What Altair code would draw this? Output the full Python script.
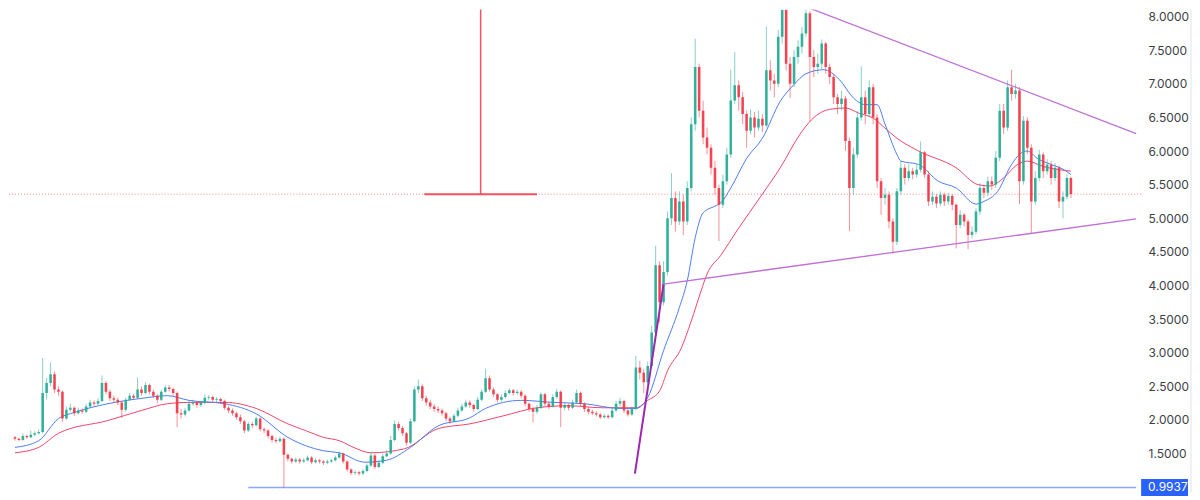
import altair as alt
import pandas as pd

# ---------------- candle data ----------------
first_open = 1.74
closes = [
    1.72, 1.70, 1.76, 1.74, 1.78, 1.80, 1.82, 2.40, 2.55, 2.68,
    2.45, 2.42, 2.02, 2.15, 2.18, 2.10, 2.14, 2.12, 2.20, 2.26,
    2.24, 2.28, 2.55, 2.42, 2.32, 2.30, 2.26, 2.15, 2.30, 2.36,
    2.33, 2.45, 2.40, 2.52, 2.42, 2.36, 2.30, 2.42, 2.48, 2.46,
    2.40, 2.10, 2.08, 2.14, 2.24, 2.26, 2.22, 2.25, 2.33, 2.34,
    2.30, 2.31, 2.28, 2.18, 2.14, 2.10, 2.04, 1.98, 1.84, 1.94,
    1.92, 2.02, 1.86, 1.84, 1.76, 1.70, 1.68, 1.72, 1.48, 1.42,
    1.38, 1.41, 1.38, 1.40, 1.44, 1.37, 1.40, 1.38, 1.36, 1.38,
    1.40, 1.44, 1.50, 1.38, 1.26, 1.21, 1.22, 1.20, 1.24, 1.32,
    1.47, 1.30, 1.36, 1.46, 1.50, 1.70, 1.94, 1.88, 1.80, 1.66,
    1.98, 2.45, 2.50, 2.32, 2.26, 2.20, 2.16, 2.14, 2.10, 2.02,
    1.98, 2.06, 2.14, 2.20, 2.26, 2.22, 2.16, 2.30, 2.42, 2.62,
    2.45, 2.38, 2.30, 2.34, 2.40, 2.44, 2.40, 2.42, 2.36, 2.24,
    2.16, 2.12, 2.18, 2.38, 2.24, 2.20, 2.34, 2.42, 2.18, 2.22,
    2.18, 2.26, 2.40, 2.24, 2.16, 2.12, 2.10, 2.08, 2.04, 2.06,
    2.04, 2.14, 2.24, 2.28, 2.14, 2.08, 2.16, 2.78, 2.70, 2.56,
    2.80, 3.30, 4.30, 3.75, 4.20, 5.00, 5.30, 4.95, 5.25, 4.95,
    5.45, 6.40, 7.25, 6.60, 6.20, 6.05, 5.75, 5.45, 5.20, 5.55,
    5.95, 6.75, 6.98, 6.80, 6.55, 6.30, 6.50, 6.35, 6.48, 6.38,
    7.20, 7.05, 7.00, 7.70, 8.10, 7.30, 7.00, 7.40, 7.55, 7.75,
    8.05, 7.40, 7.25, 7.30, 7.60, 7.25, 7.10, 6.80, 6.70, 6.78,
    6.15, 5.45, 5.95, 6.50, 6.80, 6.55, 6.95, 6.50, 5.55, 5.30,
    5.35, 4.95, 4.65, 5.40, 5.75, 5.60, 5.70, 5.65, 5.72, 5.98,
    5.65, 5.25, 5.32, 5.22, 5.35, 5.25, 5.33, 5.20, 4.90, 5.05,
    4.95, 4.75, 4.80, 5.10, 5.45, 5.38, 5.55, 5.50, 5.90, 6.60,
    6.35, 6.95, 6.85, 6.90, 5.55, 6.45, 6.05, 5.25, 5.60, 5.95,
    5.70, 5.80, 5.60, 5.75, 5.25, 5.32, 5.60, 5.36,
]
highs = [
    1.76, 1.74, 1.80, 1.78, 1.84, 1.83, 1.86, 2.92, 2.62, 2.85,
    2.72, 2.50, 2.44, 2.20, 2.24, 2.20, 2.18, 2.17, 2.24, 2.30,
    2.29, 2.32, 2.66, 2.58, 2.45, 2.36, 2.33, 2.28, 2.33, 2.40,
    2.39, 2.63, 2.50, 2.56, 2.54, 2.45, 2.38, 2.45, 2.52, 2.52,
    2.48, 2.42, 2.16, 2.18, 2.28, 2.30, 2.28, 2.28, 2.38, 2.37,
    2.36, 2.34, 2.33, 2.30, 2.21, 2.17, 2.12, 2.08, 2.00, 1.97,
    1.97, 2.05, 2.04, 1.89, 1.86, 1.78, 1.73, 1.75, 1.74, 1.50,
    1.44, 1.44, 1.43, 1.43, 1.47, 1.46, 1.43, 1.42, 1.40, 1.41,
    1.42, 1.47, 1.53, 1.51, 1.40, 1.28, 1.25, 1.24, 1.27, 1.35,
    1.52, 1.49, 1.40, 1.49, 1.55, 1.76, 1.99, 1.97, 1.91, 1.82,
    2.02, 2.50, 2.60, 2.53, 2.36, 2.30, 2.24, 2.20, 2.17, 2.12,
    2.05, 2.09, 2.18, 2.24, 2.30, 2.29, 2.24, 2.34, 2.46, 2.76,
    2.66, 2.48, 2.40, 2.38, 2.44, 2.47, 2.46, 2.45, 2.44, 2.38,
    2.26, 2.19, 2.22, 2.41, 2.40, 2.27, 2.38, 2.46, 2.44, 2.26,
    2.25, 2.30, 2.45, 2.42, 2.26, 2.19, 2.15, 2.13, 2.10, 2.09,
    2.08, 2.17, 2.28, 2.33, 2.30, 2.16, 2.20, 2.95, 2.88, 2.76,
    2.87, 3.40, 4.59, 4.36, 4.36, 5.10, 5.67, 5.40, 5.40, 5.35,
    5.55, 6.50, 7.67, 7.30, 6.75, 6.35, 6.10, 5.85, 5.50, 5.65,
    6.05, 7.21, 7.47, 7.05, 6.88, 6.60, 6.62, 6.58, 6.60, 6.55,
    7.85, 7.35, 7.15, 7.80, 8.22, 8.15, 7.40, 7.50, 7.65, 7.85,
    8.12, 8.08, 7.50, 7.45, 7.66, 7.62, 7.30, 7.15, 6.85, 6.90,
    6.82, 6.20, 6.05, 6.60, 7.26, 6.90, 7.05, 7.00, 6.55, 5.60,
    5.45, 5.40, 5.00, 5.45, 5.85, 5.80, 5.80, 5.75, 5.80, 6.14,
    6.00, 5.70, 5.40, 5.36, 5.40, 5.38, 5.38, 5.36, 5.22, 5.12,
    5.08, 4.98, 4.88, 5.15, 5.52, 5.50, 5.62, 5.62, 6.00, 6.70,
    6.70, 7.05, 7.21, 7.00, 6.95, 6.52, 6.50, 6.10, 5.70, 6.02,
    5.98, 5.88, 5.85, 5.82, 5.78, 5.40, 5.65, 5.62,
]
lows = [
    1.69, 1.68, 1.69, 1.72, 1.73, 1.76, 1.78, 1.80, 2.30, 2.50,
    2.40, 2.36, 1.97, 2.00, 2.12, 2.06, 2.08, 2.09, 2.10, 2.18,
    2.20, 2.22, 2.26, 2.38, 2.28, 2.26, 2.22, 2.03, 2.12, 2.28,
    2.30, 2.31, 2.36, 2.38, 2.38, 2.32, 2.25, 2.28, 2.40, 2.42,
    2.36, 1.89, 2.02, 2.05, 2.12, 2.21, 2.18, 2.19, 2.23, 2.29,
    2.27, 2.26, 2.24, 2.15, 2.10, 2.06, 2.00, 1.94, 1.80, 1.82,
    1.88, 1.90, 1.83, 1.80, 1.72, 1.66, 1.65, 1.66, 0.99, 1.38,
    1.35, 1.36, 1.35, 1.36, 1.38, 1.34, 1.35, 1.35, 1.33, 1.34,
    1.36, 1.38, 1.42, 1.35, 1.23, 1.18, 1.18, 1.17, 1.18, 1.22,
    1.30, 1.27, 1.28, 1.34, 1.44, 1.48, 1.68, 1.84, 1.76, 1.62,
    1.64, 1.96, 2.40, 2.28, 2.21, 2.16, 2.12, 2.10, 2.06, 1.98,
    1.94, 1.96, 2.04, 2.12, 2.18, 2.18, 2.12, 2.14, 2.28, 2.40,
    2.42, 2.34, 2.26, 2.27, 2.32, 2.38, 2.36, 2.37, 2.32, 2.20,
    2.12, 1.96, 2.09, 2.16, 2.20, 2.16, 2.18, 2.31, 1.89, 2.14,
    2.14, 2.16, 2.24, 2.20, 2.12, 2.08, 2.07, 2.05, 2.01, 2.02,
    2.01, 2.02, 2.12, 2.20, 2.10, 2.05, 2.06, 2.14, 2.60, 2.40,
    2.52, 2.76, 3.25, 3.45, 3.70, 4.15, 4.90, 4.80, 4.90, 4.75,
    4.90, 5.40, 6.30, 6.50, 6.10, 5.95, 5.65, 5.35, 4.66, 5.15,
    5.50, 5.90, 6.70, 6.60, 6.40, 6.05, 6.25, 6.20, 6.30, 6.28,
    6.35, 6.90, 6.80, 6.95, 7.60, 7.20, 6.79, 6.95, 7.30, 7.45,
    7.70, 6.44, 7.10, 7.15, 7.22, 7.15, 7.00, 6.70, 6.55, 6.60,
    6.00, 4.81, 5.35, 5.90, 6.45, 6.40, 6.50, 6.40, 5.45, 5.05,
    5.20, 4.85, 4.47, 4.60, 5.35, 5.50, 5.55, 5.58, 5.60, 5.68,
    5.60, 5.18, 5.20, 5.15, 5.18, 5.18, 5.20, 5.12, 4.55, 4.85,
    4.88, 4.54, 4.70, 4.76, 5.05, 5.30, 5.33, 5.42, 5.45, 5.85,
    6.25, 6.30, 6.75, 6.78, 5.21, 5.50, 5.95, 4.78, 5.20, 5.55,
    5.60, 5.65, 5.50, 5.55, 5.15, 5.00, 5.28, 5.30,
]

# ---------------- moving averages ----------------
blue_ma_i = [0, 6, 11, 15, 23.5, 32, 38.5, 44, 53, 61, 69, 78, 82, 88.5, 94,
             100, 107, 115, 119, 128, 136, 144, 153, 157, 160, 164, 168, 170,
             172, 174, 177, 178.5, 181, 185, 189, 193.5, 197, 200, 204.5,
             208.5, 212, 215, 218, 220, 223, 224, 228.5, 233.5, 238, 243, 245,
             248.5, 252, 254, 256, 258.5, 262, 265, 267]
blue_ma_v = [1.59, 1.69, 2.02, 2.11, 2.24, 2.32, 2.36, 2.29, 2.24, 2.09, 1.74,
             1.54, 1.51, 1.37, 1.40, 1.59, 1.91, 2.03, 2.17, 2.29, 2.26, 2.24,
             2.17, 2.17, 2.33, 3.03, 3.67, 4.07, 4.71, 5.08, 5.18, 5.23, 5.45,
             5.89, 6.19, 6.74, 6.99, 7.15, 7.21, 7.06, 6.79, 6.69, 6.69, 6.40,
             5.95, 5.85, 5.80, 5.55, 5.45, 5.21, 5.25, 5.40, 5.80, 5.95, 6.00,
             5.89, 5.80, 5.73, 5.65]
red_ma_i = [0, 6, 11, 23.5, 32, 38.5, 44, 53, 61, 69, 73.5, 78, 82, 86, 90,
            98.5, 107, 115, 123.5, 132, 140, 148.5, 157, 160, 163, 165, 168.5,
            171, 173.5, 175, 178.5, 182.5, 189, 193.5, 198.5, 201.5, 206, 210,
            213.5, 217, 220, 223, 228.5, 238, 243.5, 246.5, 250, 253.5, 256,
            260, 267]
red_ma_v = [1.51, 1.59, 1.80, 1.99, 2.14, 2.24, 2.26, 2.26, 2.17, 1.94, 1.84,
            1.74, 1.69, 1.58, 1.51, 1.57, 1.87, 1.94, 2.06, 2.18, 2.21, 2.18,
            2.18, 2.29, 2.43, 2.73, 3.07, 3.47, 3.92, 4.17, 4.45, 4.81, 5.36,
            5.75, 6.25, 6.47, 6.62, 6.64, 6.56, 6.49, 6.34, 6.19, 6.00, 5.75,
            5.50, 5.48, 5.60, 5.80, 5.85, 5.77, 5.70]

# ---------------- drawings ----------------
last_price = 5.358
support_price = 0.9937
support_label = "0.9937"
support_start_i = 59
x_end = 283.5
y_ticks = [1.5, 2.0, 2.5, 3.0, 3.5, 4.0, 4.5, 5.0, 5.5, 6.0, 6.5, 7.0, 7.5, 8.0]

steep_line = {"x1": [156.75], "y1": [1.20], "x2": [164.0], "y2": [4.02]}
tri_lines = {"x1": [164.0, 196.75], "y1": [4.02, 8.22], "x2": [283.5, 283.5], "y2": [4.99, 6.26]}
measure_v = {"x1": [117.75], "y1": [5.358], "y2": [8.3]}
measure_h = {"x1": [103.5], "x2": [132.0], "y1": [5.358]}

# ---------------- chart ----------------
opens = [first_open] + closes[:-1]
direction = ["up" if c >= o else "down" for o, c in zip(opens, closes)]
candles = pd.DataFrame({
    "i": list(range(len(closes))), "open": opens, "high": highs,
    "low": lows, "close": closes, "dir": direction,
})

x_scale = alt.Scale(domain=[-0.25, x_end], nice=False, zero=False)
y_scale = alt.Scale(domain=[0.9207, 8.1039], nice=False, zero=False)
color_scale = alt.Scale(domain=["up", "down"], range=["#22ab94", "#f23645"])

y_axis = alt.Axis(orient="right", values=y_ticks, format=".4f", grid=False,
                  ticks=False, domain=False, labelPadding=7,
                  labelFontSize=12, labelColor="#3d3f47", labelFont="Inter",
                  title=None)

X = lambda f: alt.X(f, scale=x_scale, axis=None)
Y = lambda f: alt.Y(f, scale=y_scale, axis=y_axis, title=None)

base = alt.Chart(candles)
wicks = base.mark_rule(strokeWidth=1, opacity=0.55, clip=True).encode(
    x=X("i:Q"), y=Y("low:Q"), y2="high:Q",
    color=alt.Color("dir:N", scale=color_scale, legend=None),
)
bodies = base.mark_bar(size=2.6, opacity=0.9, clip=True).encode(
    x=X("i:Q"), y=Y("open:Q"), y2="close:Q",
    color=alt.Color("dir:N", scale=color_scale, legend=None),
)

blue_ma = alt.Chart(pd.DataFrame({"i": blue_ma_i, "v": blue_ma_v})).mark_line(
    color="#4d7cf5", strokeWidth=1, interpolate="monotone", clip=True
).encode(x=X("i:Q"), y=Y("v:Q"))
red_ma = alt.Chart(pd.DataFrame({"i": red_ma_i, "v": red_ma_v})).mark_line(
    color="#f0456a", strokeWidth=1, interpolate="monotone", clip=True
).encode(x=X("i:Q"), y=Y("v:Q"))

last_line = alt.Chart(pd.DataFrame({"v": [last_price]})).mark_rule(
    color="#f23645", strokeDash=[1, 2], opacity=0.6, strokeWidth=1
).encode(y=Y("v:Q"))

support_line = alt.Chart(pd.DataFrame({"x1": [support_start_i], "x2": [x_end], "v": [support_price]})).mark_rule(
    color="#2962ff", opacity=0.55, strokeWidth=1.5
).encode(x=X("x1:Q"), x2="x2:Q", y=Y("v:Q"))

steep = alt.Chart(pd.DataFrame(steep_line)).mark_rule(
    color="#9c27b0", strokeWidth=2, clip=True
).encode(x=X("x1:Q"), x2="x2:Q", y=Y("y1:Q"), y2="y2:Q")
tri = alt.Chart(pd.DataFrame(tri_lines)).mark_rule(
    color="#bf6fd6", strokeWidth=1.3, clip=True
).encode(x=X("x1:Q"), x2="x2:Q", y=Y("y1:Q"), y2="y2:Q")

meas_v = alt.Chart(pd.DataFrame(measure_v)).mark_rule(
    color="#f7525f", strokeWidth=1.5, clip=True
).encode(x=X("x1:Q"), y=Y("y1:Q"), y2="y2:Q")
meas_h = alt.Chart(pd.DataFrame(measure_h)).mark_rule(
    color="#f7525f", strokeWidth=2, clip=True
).encode(x=X("x1:Q"), x2="x2:Q", y=Y("y1:Q"))

label_df = pd.DataFrame({"v": [support_price], "label": [support_label]})
label_box = alt.Chart(label_df).transform_calculate(
    lo="datum.v - 0.125", hi="datum.v + 0.125"
).mark_rect(color="#2962ff").encode(
    x=alt.value(1135), x2=alt.value(1182), y=Y("lo:Q"), y2="hi:Q"
)
label_text = alt.Chart(label_df).mark_text(
    align="left", baseline="middle", color="white", fontSize=12, font="Inter"
).encode(x=alt.value(1142), y=Y("v:Q"), text="label:N")

border = alt.Chart(label_df).mark_rule(color="#e0e3eb", strokeWidth=1).encode(
    x=alt.value(1185), y=alt.value(0), y2=alt.value(484)
)

chart = alt.layer(
    last_line, support_line, red_ma, blue_ma, wicks, bodies,
    steep, tri, meas_v, meas_h, label_box, label_text, border,
).properties(width=1135, height=484, padding=0, background="white").configure_view(stroke=None)

chart.save("out.html", embed_options={"renderer": "svg", "actions": False})
